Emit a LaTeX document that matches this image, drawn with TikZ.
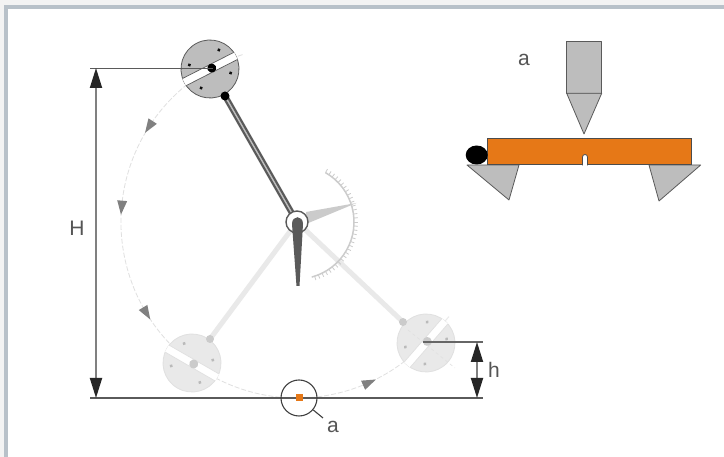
\documentclass[tikz,border=0pt]{standalone}
\usepackage{fontspec}
\setmainfont{Liberation Sans}
\usetikzlibrary{arrows.meta}
\definecolor{pagegray}{HTML}{F3F3F3}
\definecolor{framegray}{HTML}{B8C1C9}
\definecolor{steelgray}{HTML}{BDBDBD}
\definecolor{edgegray}{HTML}{5A5A5A}
\definecolor{ghostgray}{HTML}{E9E9E9}
\definecolor{ghostedge}{HTML}{E0E0E0}
\definecolor{hubgray}{HTML}{CBCBCB}
\definecolor{scalegray}{HTML}{CCCCCC}
\definecolor{arrowgray}{HTML}{808080}
\definecolor{textgray}{HTML}{555555}
\definecolor{barorange}{HTML}{E67817}
\begin{document}
\begin{tikzpicture}[x=1pt,y=1pt]
            \tikzset{steel/.style = {fill=steelgray,draw=edgegray,line width=.8pt,line join=round}}
            \tikzset{dimline/.style = {draw=edgegray,line width=1.2pt}}
            \tikzset{dimarrow/.style = {draw=gray,line width=1.8pt,{Triangle[length=20pt,width=12pt,color=black!85]}-{Triangle[length=20pt,width=12pt,color=black!85]}}}
            \tikzset{label/.style = {text=textgray,inner sep=0pt,font=\fontsize{21}{21}\selectfont}}
            \tikzset{arm/.style = {draw=ghostgray,line width=5pt}}
            % page and frame
            \fill[pagegray] (0,0) rectangle (724,457);
            \fill[framegray] (4,0) rectangle (724,452);
            \fill[white] (8,0) rectangle (724,448);
            \coordinate (pivot) at (297,235);
            \coordinate (bobtop) at (210,388);
            \coordinate (bobleft) at (192,94);
            \coordinate (bobright) at (426,114);
            % trajectory
            \draw[ghostedge,line width=.8pt,dash pattern=on 5pt off 2pt,shift={(pivot)}] (108:176) arc (108:317:176);
            \foreach \ang in {147,175,211,294}
              \fill[arrowgray,shift={(pivot)},rotate=\ang] (176,8) -- (171,-6) -- (181,-6) -- cycle;
            % ghost arms
            \coordinate (knobleft) at (210,118);
            \coordinate (knobright) at (403,135);
            \draw[arm] (pivot) -- (knobleft);
            \draw[arm] (pivot) -- (knobright);
            % the three positions of the hammer
            \foreach \bob/\ang/\bobfill/\bobedge/\bobhub in {bobleft/-30/ghostgray/ghostedge/hubgray,bobright/49/ghostgray/ghostedge/hubgray,bobtop/27/steelgray/edgegray/black} {
              \begin{scope}[shift={(\bob)},rotate=\ang]
                \fill[\bobfill,draw=\bobedge,line width=.8pt] (0,0) circle (29);
                \fill[white] (-29,-4) rectangle (29,4);
                \draw[\bobedge,line width=.7pt] (-28.7,-4) -- (28.7,-4) (-28.7,4) -- (28.7,4);
                \foreach \dot in {38,142,-38,-142}
                  \fill[\bobhub!85!edgegray] (\dot:21) circle (1.8);
                \fill[\bobhub] (2,0) circle (4.5);
              \end{scope}
            }
            \draw[ghostedge,line width=.6pt,dashed] (408,127) -- (455,89);
            \draw[ghostgray,line width=1pt] (426,114) ++(49:29) -- ++(49:6);
            \fill[hubgray] (knobleft) circle (4);
            \fill[hubgray] (knobright) circle (4);
            % rod and scale
            \coordinate (knobtop) at (225,361);
            \draw[edgegray,line width=6pt] (knobtop) -- (pivot);
            \draw[steelgray,line width=1.4pt] (knobtop) -- (pivot);
            \fill[black] (knobtop) circle (4.5);
            \fill[hubgray] (306,245) -- (356.5,254) -- (306,233) -- cycle;
            \draw[scalegray,line width=1.5pt,shift={(pivot)}] (60:57) arc (60:-75:57);
            \foreach \ang in {60,56,...,-75}
              \draw[scalegray,line width=.8pt,shift={(pivot)}] (\ang:57) -- (\ang:61);
            % pivot and pointer
            \node[circle,draw=edgegray,fill=white,line width=1.4pt,minimum size=22pt,inner sep=0pt] (ring) at (pivot) {};
            \fill[edgegray] (292,233) .. controls (292,242) and (303,242) .. (303,233) -- (299.5,171) -- (296.5,171) -- cycle;
            % heights
            \coordinate (baseleft) at (90,59);
            \coordinate (baseright) at (483,59);
            \coordinate (topleft) at (90,389);
            \coordinate (topright) at (213,389);
            \coordinate (hleft) at (423,115);
            \coordinate (hright) at (483,115);
            \coordinate (Htop) at (96,389);
            \coordinate (Hbot) at (96,59);
            \coordinate (htop) at (477,115);
            \coordinate (hbot) at (477,59);
            \draw[dimline] (baseleft) -- (baseright);
            \draw[dimline,line width=.9pt] (topleft) -- (topright);
            \draw[dimline,gray!80!black] (hleft) -- (hright);
            \draw[dimarrow] (Htop) -- (Hbot);
            \draw[dimarrow] (htop) -- (hbot);
            \node[label] (Hlabel) at (77,229) {H};
            \node[label] (hlabel) at (494,87) {h};
            % striking point
            \node[circle,draw=black!75,line width=1.1pt,minimum size=36pt,inner sep=0pt] (lens) at (299,59) {};
            \node[fill=barorange,minimum size=7pt,inner sep=0pt] (spot) at (299,59) {};
            \coordinate (leadend) at (323,39);
            \draw[black!75,line width=1.1pt] (lens.-40) -- (leadend);
            \node[label] (lenslabel) at (333,30) {a};
            % detail a
            \node[label] (detaillabel) at (524,397) {a};
            \draw[steel] (566.7,415.3) rectangle (601.7,363.7);
            \draw[steel] (566.7,363.7) -- (601.7,363.7) -- (584,323) -- cycle;
            \draw[steel] (467,292) -- (519,292) -- (509,257) -- cycle;
            \draw[steel] (649,292) -- (700.7,292) -- (659,256) -- cycle;
            \draw[draw=black!70,line width=1pt,fill=barorange] (487.7,318) rectangle (691.7,292);
            \draw[draw=black!70,line width=.8pt,fill=white] (582.5,291.5) -- (582.5,300) arc (180:0:2.5) -- (587.5,291.5);
            \fill[white] (583,290) rectangle (587,293);
            \fill[black] (476.7,302) ellipse (11 and 9.5);
\end{tikzpicture}
\end{document}
